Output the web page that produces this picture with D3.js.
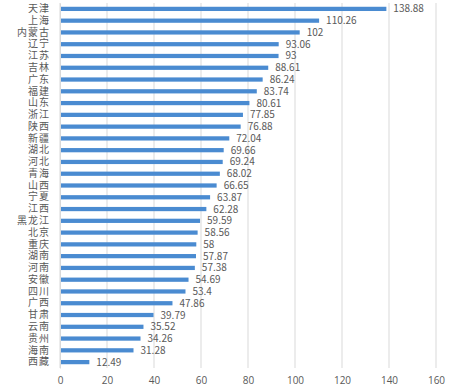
<!DOCTYPE html>
<html>
<head>
<meta charset="utf-8">
<script src="https://d3js.org/d3.v7.min.js"></script>
<style>
  body { margin: 0; background: #fff; }
  text { font-family: "Noto Sans CJK SC", "Open Sans", sans-serif; fill: #595959; }
</style>
</head>
<body>
<div id="chart"></div>
<script>
var provinces = ["天津","上海","内蒙古","辽宁","江苏","吉林","广东","福建","山东","浙江","陕西","新疆","湖北","河北","青海","山西","宁夏","江西","黑龙江","北京","重庆","湖南","河南","安徽","四川","广西","甘肃","云南","贵州","海南","西藏"];
var values = [138.88,110.26,102,93.06,93,88.61,86.24,83.74,80.61,77.85,76.88,72.04,69.66,69.24,68.02,66.65,63.87,62.28,59.59,58.56,58,57.87,57.38,54.69,53.4,47.86,39.79,35.52,34.26,31.28,12.49];
var xTicks = [0,20,40,60,80,100,120,140,160];

var width = 450, height = 390;
var mLeft = 60, mRight = 436, mTop = 3, mBottom = 368;

var svg = d3.select("#chart").append("svg")
    .attr("width", width)
    .attr("height", height);

var x = d3.scaleLinear().domain([0,160]).range([mLeft, mRight]);
var y = d3.scaleBand().domain(provinces).range([mTop, mBottom]).paddingInner(0.64).paddingOuter(0.32);

// gridlines
svg.append("g").selectAll("line")
  .data(xTicks)
  .enter().append("line")
    .attr("x1", function(d){ return x(d); })
    .attr("x2", function(d){ return x(d); })
    .attr("y1", mTop)
    .attr("y2", mBottom)
    .attr("stroke", "#d9d9d9")
    .attr("stroke-width", 1);

// bars
svg.append("g").selectAll("rect")
  .data(values)
  .enter().append("rect")
    .attr("x", x(0))
    .attr("y", function(d,i){ return y(provinces[i]); })
    .attr("width", function(d){ return x(d) - x(0); })
    .attr("height", y.bandwidth())
    .attr("fill", "#4a8bd1");

// value labels
svg.append("g").selectAll("text")
  .data(values)
  .enter().append("text")
    .attr("x", function(d){ return x(d) + 7; })
    .attr("y", function(d,i){ return y(provinces[i]) + y.bandwidth()/2; })
    .attr("dy", "0.35em")
    .attr("font-size", 10)
    .text(function(d){ return d; });

// category axis
var yAxis = svg.append("g")
    .attr("transform", "translate(" + mLeft + ",0)")
    .call(d3.axisLeft(y).tickSize(0).tickPadding(10));
yAxis.select(".domain").attr("stroke", "#d9d9d9");
yAxis.selectAll("text").attr("font-size", 10).attr("fill", "#595959")
    .attr("letter-spacing", 1)
    .style("font-family", "'Noto Sans CJK SC', sans-serif");

// value axis
var xAxis = svg.append("g")
    .attr("transform", "translate(0," + mBottom + ")")
    .call(d3.axisBottom(x).tickValues(xTicks).tickSize(0).tickPadding(9));
xAxis.select(".domain").remove();
xAxis.selectAll("text").attr("font-size", 10).attr("fill", "#595959")
    .style("font-family", "'Open Sans', sans-serif");
</script>
</body>
</html>
